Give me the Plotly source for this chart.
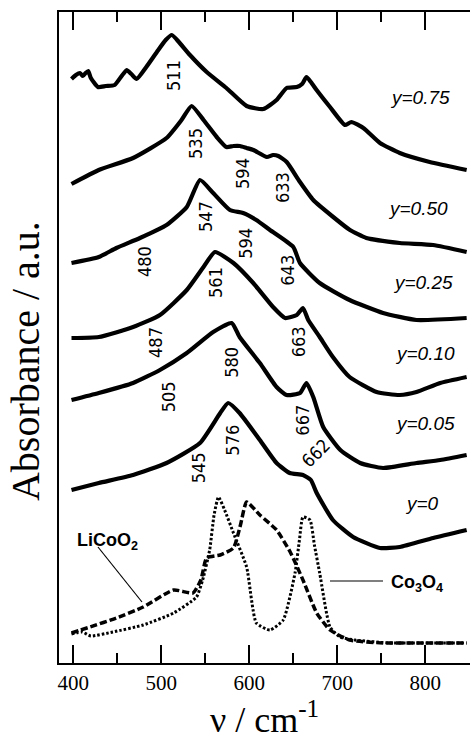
import plotly.graph_objects as go

# ---- data (wavenumber / cm-1, absorbance / a.u., stacked offsets included) ----
x_075 = [398, 403, 407.6, 411, 414, 417, 420, 428, 437, 447, 455, 460.7, 466, 472, 483, 495, 505, 512, 520, 532.6, 551.6, 574, 597, 616, 631, 642.5, 654, 660, 665, 670, 676.5, 691.7, 708.7, 716, 729.6, 748.5, 771, 805, 847]
y_075 = [5.84, 5.88, 5.90, 5.87, 5.90, 5.92, 5.85, 5.76, 5.77, 5.78, 5.87, 5.93, 5.89, 5.84, 5.96, 6.11, 6.23, 6.28, 6.21, 6.08, 5.91, 5.75, 5.57, 5.54, 5.63, 5.75, 5.76, 5.79, 5.86, 5.81, 5.73, 5.56, 5.38, 5.41, 5.35, 5.20, 5.10, 5.01, 4.93]

x_050 = [398, 429, 468, 506, 523, 534.5, 548, 563, 574, 582, 589.4, 597, 604.6, 620, 627, 633, 642.5, 657.6, 672.7, 695.4, 714.4, 733, 771, 808.8, 847]
y_050 = [4.79, 4.93, 5.05, 5.25, 5.43, 5.57, 5.43, 5.26, 5.16, 5.17, 5.17, 5.15, 5.13, 5.06, 5.08, 5.07, 5.01, 4.81, 4.63, 4.46, 4.33, 4.25, 4.20, 4.18, 4.11]

x_025 = [398, 429, 449, 475.8, 506, 529, 544, 559, 578, 593, 608, 623.5, 650, 657.6, 680, 714, 752, 790, 847]
y_025 = [4.00, 4.06, 4.15, 4.25, 4.38, 4.56, 4.83, 4.70, 4.53, 4.50, 4.43, 4.33, 4.16, 4.00, 3.80, 3.63, 3.50, 3.43, 3.45]

x_010 = [398, 429, 468, 498.5, 529, 548, 561, 582, 604.5, 627, 640.6, 654, 661, 667, 680, 695, 714, 744.7, 771, 790, 817, 847]
y_010 = [3.25, 3.26, 3.36, 3.48, 3.73, 3.96, 4.11, 4.00, 3.80, 3.56, 3.45, 3.48, 3.55, 3.43, 3.26, 3.06, 2.86, 2.71, 2.68, 2.71, 2.80, 2.86]

x_005 = [398, 429, 468, 498.5, 529, 559, 580, 589, 612, 631, 642.5, 657.6, 665, 672.7, 684, 703.5, 726, 752, 790, 817, 847]
y_005 = [2.63, 2.70, 2.80, 2.93, 3.10, 3.31, 3.40, 3.26, 3.00, 2.76, 2.68, 2.70, 2.80, 2.66, 2.36, 2.13, 2.00, 1.95, 2.00, 2.03, 2.08]

x_000 = [398, 429, 468, 506, 544, 567, 576, 589, 612, 631, 646, 661, 670, 676.6, 695, 718, 748.5, 771, 809, 847]
y_000 = [1.73, 1.80, 1.88, 2.00, 2.20, 2.50, 2.60, 2.50, 2.23, 2.00, 1.90, 1.88, 1.83, 1.70, 1.43, 1.26, 1.15, 1.16, 1.25, 1.33]

x_licoo2 = [398, 408, 419, 449, 479.5, 514, 536, 545, 551.6, 567, 582, 590, 597, 612, 631, 646.5, 661, 676.6, 691.7, 714, 752, 790, 847]
y_licoo2 = [0.30, 0.33, 0.36, 0.45, 0.56, 0.73, 0.70, 0.83, 1.05, 1.08, 1.15, 1.38, 1.61, 1.48, 1.33, 1.11, 0.83, 0.50, 0.33, 0.23, 0.20, 0.20, 0.20]

x_co3o4 = [398, 410, 420, 445, 479.5, 514, 540, 547, 555, 560, 565, 572, 582, 597, 608, 623.5, 638.6, 652, 657, 661, 669, 674, 680, 691.7, 703, 720, 760, 800, 847]
y_co3o4 = [0.29, 0.31, 0.27, 0.31, 0.38, 0.50, 0.66, 0.83, 1.13, 1.48, 1.66, 1.53, 1.30, 0.96, 0.40, 0.33, 0.43, 0.90, 1.23, 1.46, 1.43, 1.18, 0.90, 0.36, 0.26, 0.23, 0.20, 0.20, 0.20]

peak_labels = ["511", "535", "594", "633", "547", "594", "480", "643", "561", "487", "663", "580", "505", "667", "576", "545", "662"]
peak_x = [513.3, 538.3, 591.7, 637.2, 549.7, 595, 480.5, 642.5, 561, 492.8, 655.7, 579, 508, 659.5, 580, 542, 674.7]
peak_y = [5.88, 5.20, 4.90, 4.75, 4.46, 4.20, 4.01, 3.93, 3.81, 3.21, 3.21, 3.01, 2.66, 2.43, 2.23, 1.95, 2.10]
peak_angle = [-90] * 16 + [-45]

comp_labels = ["y=0.75", "y=0.50", "y=0.25", "y=0.10", "y=0.05", "y=0"]
comp_x = [794, 792, 797.4, 800, 800, 796.2]
comp_y = [5.66, 4.55, 3.81, 3.10, 2.40, 1.60]

tick_vals = [400, 500, 600, 700, 800]

fig = go.Figure()
solid = [(x_075, y_075), (x_050, y_050), (x_025, y_025), (x_010, y_010), (x_005, y_005), (x_000, y_000)]
for xs, ys in solid:
    fig.add_trace(go.Scatter(x=xs, y=ys, mode="lines",
                             line=dict(color="black", width=4.2, shape="spline", smoothing=0.5),
                             showlegend=False, hoverinfo="skip"))
fig.add_trace(go.Scatter(x=x_licoo2, y=y_licoo2, mode="lines",
                         line=dict(color="black", width=3.5, dash="7px,3px", shape="spline", smoothing=0.5),
                         showlegend=False, hoverinfo="skip"))
fig.add_trace(go.Scatter(x=x_co3o4, y=y_co3o4, mode="lines",
                         line=dict(color="black", width=3, dash="2.5px,2px", shape="spline", smoothing=0.5),
                         showlegend=False, hoverinfo="skip"))

narrow = "Liberation Sans Narrow, Arial Narrow, DejaVu Sans Condensed, sans-serif"
for t, xx, yy, a in zip(peak_labels, peak_x, peak_y, peak_angle):
    fig.add_annotation(x=xx, y=yy, text=t, textangle=a, showarrow=False,
                       font=dict(family=narrow, size=18, color="black"))
for t, xx, yy in zip(comp_labels, comp_x, comp_y):
    fig.add_annotation(x=xx, y=yy, text=t, showarrow=False,
                       font=dict(family="Liberation Sans, Arial, sans-serif", size=19,
                                 color="black", style="italic"))

fig.add_annotation(x=439.4, y=1.22, text="<b>LiCoO<sub>2</sub></b>", showarrow=False,
                   font=dict(family="Liberation Sans, Arial, sans-serif", size=18, color="black"))
fig.add_annotation(x=790.6, y=0.80, text="<b>Co<sub>3</sub>O<sub>4</sub></b>", showarrow=False,
                   font=dict(family="Liberation Sans, Arial, sans-serif", size=18, color="black"))
fig.add_shape(type="line", x0=428.1, y0=1.16, x1=478.1, y1=0.61, line=dict(color="black", width=1.2))
fig.add_shape(type="line", x0=691.7, y0=0.82, x1=752, y1=0.82, line=dict(color="black", width=1.2))

serif = "Times New Roman, Liberation Serif, DejaVu Serif, serif"
# y-axis title placed as a rotated annotation so that it sits where the original does
fig.add_annotation(xref="paper", yref="paper", x=-0.080, y=0.464, text="Absorbance / a.u.",
                   textangle=-90, showarrow=False, xanchor="center", yanchor="middle",
                   font=dict(family=serif, size=40, color="black"))

fig.update_layout(
    width=470, height=740,
    margin=dict(l=59, r=0, t=12, b=77),
    paper_bgcolor="white", plot_bgcolor="white",
    xaxis=dict(range=[383.8, 850.8], tickvals=tick_vals, ticktext=[str(v) for v in tick_vals],
               ticks="inside", ticklen=18, tickwidth=2, tickcolor="black",
               minor=dict(ticks="inside", ticklen=10, tickwidth=2, tickcolor="black", dtick=50, tick0=0),
               showline=True, linewidth=2, linecolor="black", mirror="allticks",
               showgrid=False, zeroline=False,
               tickfont=dict(family=serif, size=21, color="black"),
               title=dict(text="ν / cm<sup>-1</sup>", font=dict(family=serif, size=36, color="black"), standoff=2)),
    yaxis=dict(range=[0, 6.51], showticklabels=False, ticks="",
               showline=True, linewidth=2, linecolor="black", mirror=False,
               showgrid=False, zeroline=False),
)

fig.write_html("out.html")
